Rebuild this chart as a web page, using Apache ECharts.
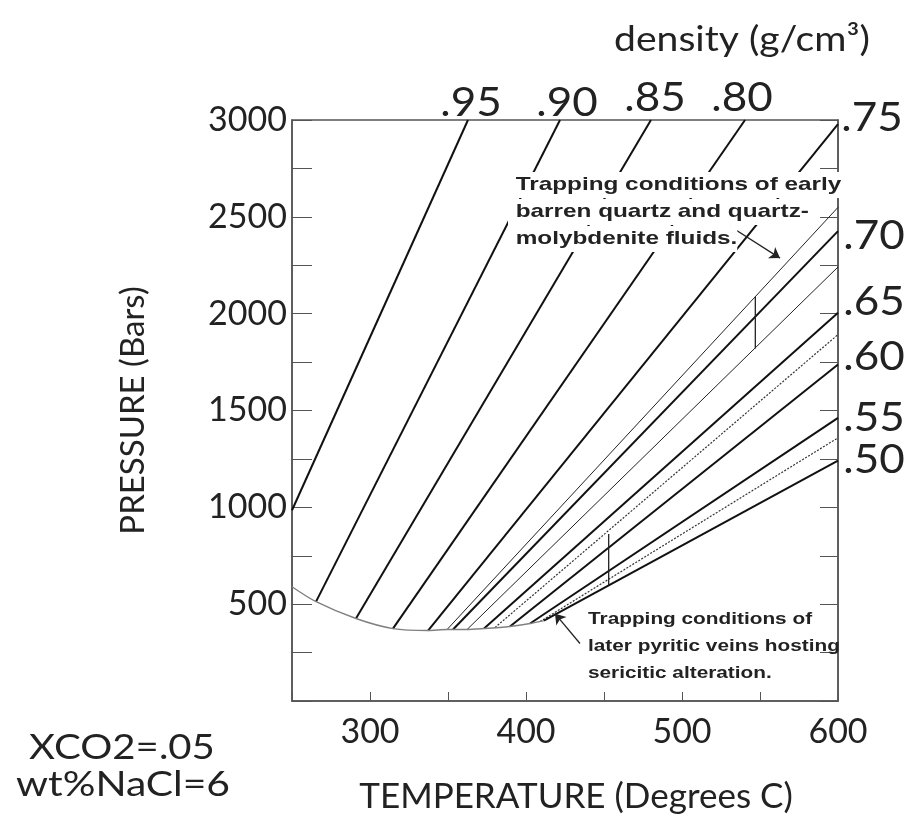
<!DOCTYPE html>
<html lang="en">

<head>
    <meta charset="UTF-8">
    <title>Isochores</title>
    <script src="https://cdn.jsdelivr.net/npm/echarts@6/dist/echarts.min.js"></script>
    <style>
        * {
            margin: 0px;
            padding: 0px;
        }

        body {
            background: #fff;
        }

        #chart {
            width: 915px;
            height: 819px;
        }
    </style>
</head>

<body>
    <div id="chart"></div>

    <script type="text/javascript">
        // axis ticks
        var tempTicks = [300, 400, 500, 600];
        var presTicks = [500, 1000, 1500, 2000, 2500, 3000];

        // density labels
        var topLabels = ['.95', '.90', '.85', '.80', '.75'];
        var rightLabels = ['.70', '.65', '.60', '.55', '.50'];

        // isochores (start on the L-V curve, end at top or right edge)
        var isoKind = ['thick', 'thick', 'thick', 'thick', 'thick', 'thin', 'thick', 'thin', 'thick', 'dot', 'thick', 'thick', 'dot', 'thick'];
        var isoStartT = [250, 265.4, 291, 314.7, 337.2, 349.4, 353.2, 362.2, 373.1, 380.1, 389.7, 402.6, 409, 411.5];
        var isoStartP = [985, 513, 426, 374, 364, 369, 369, 369, 374, 379, 385, 400, 410, 415];
        var isoEndT = [362.8, 421.8, 480.1, 540.4, 600, 600, 600, 600, 600, 600, 600, 600, 600, 600];
        var isoEndP = [3000, 3000, 3000, 3000, 2979, 2549, 2426, 2241, 2005, 1892, 1738, 1462, 1359, 1241];

        // liquid-vapour curve
        var curveT = [250, 265.4, 291, 314.7, 337.2, 349.4, 361.5, 373, 389.7, 402.6, 411.5];
        var curveP = [590, 513, 426, 374, 364, 369, 369, 374, 385, 400, 415];

        // trapping condition bars
        var barT = [547, 453];
        var barPlow = [1820, 595];
        var barPhigh = [2087, 862];

        var chart = echarts.init(document.getElementById('chart'));

        var series = [];

        // L-V curve
        series.push({
            type: 'line',
            data: curveT.map(function (t, i) { return [t, curveP[i]]; }),
            smooth: 0.3,
            showSymbol: false,
            lineStyle: { color: '#808080', width: 1.4 },
            z: 3
        });

        // isochores
        isoKind.forEach(function (k, i) {
            var ls = { color: '#111', width: 2 };
            if (k === 'thin') ls = { color: '#222', width: 1 };
            if (k === 'dot') ls = { color: '#333', width: 1.2, type: [2, 1.5] };
            series.push({
                type: 'line',
                data: [[isoStartT[i], isoStartP[i]], [isoEndT[i], isoEndP[i]]],
                showSymbol: false,
                lineStyle: ls,
                z: 2
            });
        });

        // vertical bars
        barT.forEach(function (t, i) {
            series.push({
                type: 'line',
                data: [[t, barPlow[i]], [t, barPhigh[i]]],
                showSymbol: false,
                lineStyle: { color: '#222', width: 1.3 },
                z: 2
            });
        });

        // arrows
        series.push({
            type: 'lines',
            coordinateSystem: 'cartesian2d',
            symbol: ['none', 'arrow'],
            symbolSize: 10,
            lineStyle: { color: '#222', width: 1.3, opacity: 1 },
            data: [
                { coords: [[530.8, 2451], [562.8, 2287]] },
                { coords: [[434.6, 297], [418.6, 451]] }
            ],
            z: 4
        });

        var mainFont = 'Lato, "Open Sans", sans-serif';
        var noteFont = 'bold 19px "Liberation Sans", Arial, sans-serif';
        var noteFont2 = 'bold 16.5px "Liberation Sans", Arial, sans-serif';

        var graphic = [];
        var topX = [471, 567, 655, 742, 872];
        var topY = [103, 103, 98, 98, 118];
        topLabels.forEach(function (s, i) {
            graphic.push({
                type: 'text', x: topX[i], y: topY[i], z: 50, scaleX: 1.1,
                style: { text: s, font: '40px ' + mainFont, fill: '#222', align: 'center', verticalAlign: 'middle' }
            });
        });
        var rightY = [236, 302, 357, 418, 460];
        rightLabels.forEach(function (s, i) {
            graphic.push({
                type: 'text', x: 874, y: rightY[i], z: 50, scaleX: 1.1,
                style: { text: s, font: '40px ' + mainFont, fill: '#222', align: 'center', verticalAlign: 'middle' }
            });
        });

        var note1 = ['Trapping conditions of early', 'barren quartz and quartz-', 'molybdenite fluids.'];
        note1.forEach(function (s, i) {
            graphic.push({
                type: 'text', x: 508, y: 172 + i * 27, z: 60, scaleX: 1.28,
                style: { text: s, font: noteFont, fill: '#222', backgroundColor: '#fff', padding: [3, 0, 4, 6] }
            });
        });
        var note2 = ['Trapping conditions of', 'later pyritic veins hosting', 'sericitic alteration.'];
        note2.forEach(function (s, i) {
            graphic.push({
                type: 'text', x: 588, y: 611 + i * 27, z: 60, scaleX: 1.26,
                style: { text: s, font: noteFont2, fill: '#222' }
            });
        });

        graphic.push({
            type: 'text', x: 742, y: 40, z: 50, scaleX: 1.15,
            style: { text: 'density (g/cm³)', font: '34px ' + mainFont, fill: '#222', align: 'center', verticalAlign: 'middle' }
        });
        graphic.push({
            type: 'text', x: 122, y: 748, z: 50, scaleX: 1.18,
            style: { text: 'XCO2=.05', font: '34px ' + mainFont, fill: '#222', align: 'center', verticalAlign: 'middle' }
        });
        graphic.push({
            type: 'text', x: 123, y: 785, z: 50, scaleX: 1.2,
            style: { text: 'wt%NaCl=6', font: '34px ' + mainFont, fill: '#222', align: 'center', verticalAlign: 'middle' }
        });

        var option = {
            animation: false,
            backgroundColor: '#fff',
            grid: {
                left: 292, right: 77, top: 120, bottom: 114,
                show: true, borderColor: '#555', borderWidth: 1.5
            },
            xAxis: {
                type: 'value', min: 250, max: 600, interval: 50,
                name: 'TEMPERATURE (Degrees C)',
                nameLocation: 'middle', nameGap: 78,
                nameTextStyle: { fontFamily: mainFont, fontSize: 35, color: '#222', padding: [0, 0, 0, 22] },
                axisLine: { lineStyle: { color: '#555', width: 1.5 } },
                axisTick: { inside: true, length: 9, lineStyle: { color: '#555' } },
                splitLine: { show: false },
                axisLabel: {
                    margin: 14, fontFamily: mainFont, fontSize: 34, color: '#222',
                    formatter: function (v) { return tempTicks.indexOf(v) >= 0 ? v : ''; }
                }
            },
            yAxis: [{
                type: 'value', min: 0, max: 3000, interval: 250,
                name: 'PRESSURE (Bars)',
                nameLocation: 'middle', nameGap: 142, nameRotate: 90,
                nameTextStyle: { fontFamily: mainFont, fontSize: 33, color: '#222' },
                axisLine: { show: true, lineStyle: { color: '#555', width: 1.5 } },
                axisTick: { inside: true, length: 20, lineStyle: { color: '#555' } },
                splitLine: { show: false },
                axisLabel: {
                    margin: 5, fontFamily: mainFont, fontSize: 34, color: '#222',
                    formatter: function (v) { return presTicks.indexOf(v) >= 0 ? v : ''; }
                }
            }, {
                type: 'value', min: 0, max: 3000, interval: 250, position: 'right',
                axisLine: { show: true, lineStyle: { color: '#555', width: 1.5 } },
                axisTick: { inside: true, length: 18, lineStyle: { color: '#555' } },
                splitLine: { show: false },
                axisLabel: { show: false }
            }],
            series: series,
            graphic: graphic
        };

        chart.setOption(option);
    </script>
</body>

</html>
